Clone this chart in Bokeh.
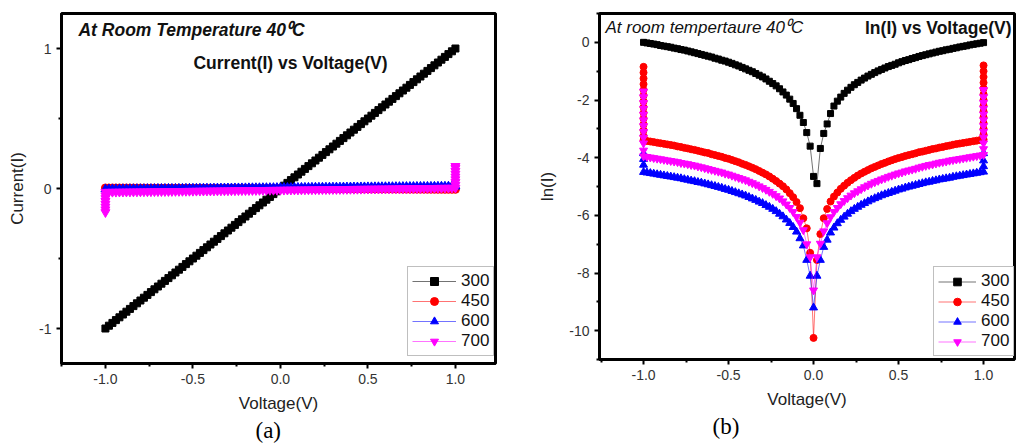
from bokeh.plotting import figure
from bokeh.models import (FixedTicker, Label, Legend, LegendItem, Title, Range1d,
                          CustomJSTickFormatter)
from bokeh.layouts import row
from bokeh.embed import file_html
from bokeh.resources import INLINE

# ---------------- data ----------------
volt = [-1.00, -0.98, -0.96, -0.94, -0.92, -0.90, -0.88, -0.86, -0.84, -0.82,
        -0.80, -0.78, -0.76, -0.74, -0.72, -0.70, -0.68, -0.66, -0.64, -0.62,
        -0.60, -0.58, -0.56, -0.54, -0.52, -0.50, -0.48, -0.46, -0.44, -0.42,
        -0.40, -0.38, -0.36, -0.34, -0.32, -0.30, -0.28, -0.26, -0.24, -0.22,
        -0.20, -0.18, -0.16, -0.14, -0.12, -0.10, -0.08, -0.06, -0.04, -0.02,
        0.00,
        0.02, 0.04, 0.06, 0.08, 0.10, 0.12, 0.14, 0.16, 0.18, 0.20,
        0.22, 0.24, 0.26, 0.28, 0.30, 0.32, 0.34, 0.36, 0.38, 0.40,
        0.42, 0.44, 0.46, 0.48, 0.50, 0.52, 0.54, 0.56, 0.58, 0.60,
        0.62, 0.64, 0.66, 0.68, 0.70, 0.72, 0.74, 0.76, 0.78, 0.80,
        0.82, 0.84, 0.86, 0.88, 0.90, 0.92, 0.94, 0.96, 0.98, 1.00]

# panel (a): current
cur_300 = [-1.00, -0.98, -0.96, -0.94, -0.92, -0.90, -0.88, -0.86, -0.84, -0.82,
           -0.80, -0.78, -0.76, -0.74, -0.72, -0.70, -0.68, -0.66, -0.64, -0.62,
           -0.60, -0.58, -0.56, -0.54, -0.52, -0.50, -0.48, -0.46, -0.44, -0.42,
           -0.40, -0.38, -0.36, -0.34, -0.32, -0.30, -0.28, -0.26, -0.24, -0.22,
           -0.20, -0.18, -0.16, -0.14, -0.12, -0.10, -0.08, -0.06, -0.04, -0.02,
           0.00,
           0.02, 0.04, 0.06, 0.08, 0.10, 0.12, 0.14, 0.16, 0.18, 0.20,
           0.22, 0.24, 0.26, 0.28, 0.30, 0.32, 0.34, 0.36, 0.38, 0.40,
           0.42, 0.44, 0.46, 0.48, 0.50, 0.52, 0.54, 0.56, 0.58, 0.60,
           0.62, 0.64, 0.66, 0.68, 0.70, 0.72, 0.74, 0.76, 0.78, 0.80,
           0.82, 0.84, 0.86, 0.88, 0.90, 0.92, 0.94, 0.96, 0.98, 1.00]

cur_450 = [0.0040, 0.0039, 0.0038, 0.0037, 0.0036, 0.0035, 0.0034, 0.0033, 0.0032, 0.0031,
           0.0030, 0.0029, 0.0028, 0.0027, 0.0026, 0.0025, 0.0024, 0.0023, 0.0022, 0.0021,
           0.0020, 0.0019, 0.0018, 0.0017, 0.0016, 0.0015, 0.0014, 0.0013, 0.0012, 0.0011,
           0.0010, 0.0009, 0.0008, 0.0007, 0.0006, 0.0005, 0.0004, 0.0003, 0.0002, 0.0001,
           0.0000,
           -0.0001, -0.0002, -0.0003, -0.0004, -0.0005, -0.0006, -0.0007, -0.0008, -0.0009, -0.0010,
           -0.0011, -0.0012, -0.0013, -0.0014, -0.0015, -0.0016, -0.0017, -0.0018, -0.0019, -0.0020,
           -0.0021, -0.0022, -0.0023, -0.0024, -0.0025, -0.0026, -0.0027, -0.0028, -0.0029, -0.0030,
           -0.0031, -0.0032, -0.0033, -0.0034, -0.0035, -0.0036, -0.0037, -0.0038, -0.0039, -0.0040,
           -0.0041, -0.0042, -0.0043, -0.0044, -0.0045, -0.0046, -0.0047, -0.0048, -0.0049, -0.0050,
           -0.0051, -0.0052, -0.0053, -0.0054, -0.0055, -0.0056, -0.0057, -0.0058, -0.0059, -0.0060]

cur_600 = [-0.0050, -0.0048, -0.0046, -0.0044, -0.0042, -0.0040, -0.0038, -0.0036, -0.0034, -0.0032,
           -0.0030, -0.0028, -0.0026, -0.0024, -0.0022, -0.0020, -0.0018, -0.0016, -0.0014, -0.0012,
           -0.0010, -0.0008, -0.0006, -0.0004, -0.0002, 0.0000, 0.0002, 0.0004, 0.0006, 0.0008,
           0.0010, 0.0012, 0.0014, 0.0016, 0.0018, 0.0020, 0.0022, 0.0024, 0.0026, 0.0028,
           0.0030, 0.0032, 0.0034, 0.0036, 0.0038, 0.0040, 0.0042, 0.0044, 0.0046, 0.0048,
           0.0050,
           0.0052, 0.0054, 0.0056, 0.0058, 0.0060, 0.0062, 0.0064, 0.0066, 0.0068, 0.0070,
           0.0072, 0.0074, 0.0076, 0.0078, 0.0080, 0.0082, 0.0084, 0.0086, 0.0088, 0.0090,
           0.0092, 0.0094, 0.0096, 0.0098, 0.0100, 0.0102, 0.0104, 0.0106, 0.0108, 0.0110,
           0.0112, 0.0114, 0.0116, 0.0118, 0.0120, 0.0122, 0.0124, 0.0126, 0.0128, 0.0130,
           0.0132, 0.0134, 0.0136, 0.0138, 0.0140, 0.0142, 0.0144, 0.0146, 0.0148, 0.0150]

cur_700 = [-0.0250, -0.0247, -0.0244, -0.0241, -0.0238, -0.0235, -0.0232, -0.0229, -0.0226, -0.0223,
           -0.0220, -0.0217, -0.0214, -0.0211, -0.0208, -0.0205, -0.0202, -0.0199, -0.0196, -0.0193,
           -0.0190, -0.0187, -0.0184, -0.0181, -0.0178, -0.0175, -0.0172, -0.0169, -0.0166, -0.0163,
           -0.0160, -0.0157, -0.0154, -0.0151, -0.0148, -0.0145, -0.0142, -0.0139, -0.0136, -0.0133,
           -0.0130, -0.0127, -0.0124, -0.0121, -0.0118, -0.0115, -0.0112, -0.0109, -0.0106, -0.0103,
           -0.0100,
           -0.0097, -0.0094, -0.0091, -0.0088, -0.0085, -0.0082, -0.0079, -0.0076, -0.0073, -0.0070,
           -0.0067, -0.0064, -0.0061, -0.0058, -0.0055, -0.0052, -0.0049, -0.0046, -0.0043, -0.0040,
           -0.0037, -0.0034, -0.0031, -0.0028, -0.0025, -0.0022, -0.0019, -0.0016, -0.0013, -0.0010,
           -0.0007, -0.0004, -0.0001, 0.0002, 0.0005, 0.0008, 0.0011, 0.0014, 0.0017, 0.0020,
           0.0023, 0.0026, 0.0029, 0.0032, 0.0035, 0.0038, 0.0041, 0.0044, 0.0047, 0.0050]
# repeated readings at V = -1 and V = +1 (700 series)
cur_700_start = [-0.17, -0.15, -0.13, -0.11, -0.09, -0.07, -0.05]
cur_700_end = [0.025, 0.045, 0.065, 0.085, 0.105, 0.125, 0.145, 0.16]

# panel (b): ln(I)
ln_300 = [0.00, -0.02, -0.04, -0.06, -0.08, -0.11, -0.13, -0.15, -0.17, -0.20,
          -0.22, -0.25, -0.27, -0.30, -0.33, -0.36, -0.39, -0.42, -0.45, -0.48,
          -0.51, -0.55, -0.58, -0.62, -0.65, -0.69, -0.73, -0.78, -0.82, -0.87,
          -0.92, -0.97, -1.02, -1.08, -1.14, -1.20, -1.27, -1.35, -1.43, -1.51,
          -1.61, -1.72, -1.83, -1.97, -2.12, -2.30, -2.53, -2.78, -3.13, -3.60,
          -4.65,
          -4.90, -3.68, -3.16, -2.83, -2.47, -2.21, -2.04, -1.90, -1.77, -1.66,
          -1.56, -1.47, -1.39, -1.31, -1.24, -1.17, -1.11, -1.05, -0.99, -0.94,
          -0.89, -0.84, -0.80, -0.76, -0.71, -0.67, -0.63, -0.60, -0.56, -0.53,
          -0.49, -0.46, -0.43, -0.40, -0.37, -0.34, -0.31, -0.29, -0.26, -0.24,
          -0.21, -0.19, -0.16, -0.14, -0.12, -0.09, -0.07, -0.05, -0.03, -0.01]

ln_450 = [-3.40, -3.42, -3.44, -3.46, -3.48, -3.50, -3.52, -3.54, -3.56, -3.58,
          -3.61, -3.63, -3.66, -3.68, -3.71, -3.73, -3.76, -3.79, -3.82, -3.84,
          -3.88, -3.91, -3.94, -3.97, -4.01, -4.04, -4.08, -4.12, -4.16, -4.21,
          -4.25, -4.30, -4.35, -4.40, -4.46, -4.52, -4.58, -4.65, -4.73, -4.81,
          -4.90, -4.99, -5.10, -5.23, -5.37, -5.54, -5.75, -6.10, -6.45, -7.30,
          -10.25,
          -7.55, -6.65, -6.10, -5.78, -5.52, -5.35, -5.21, -5.08, -4.97, -4.87,
          -4.78, -4.70, -4.62, -4.55, -4.49, -4.43, -4.37, -4.32, -4.27, -4.22,
          -4.18, -4.13, -4.09, -4.05, -4.01, -3.98, -3.94, -3.91, -3.88, -3.85,
          -3.81, -3.79, -3.76, -3.73, -3.70, -3.68, -3.65, -3.63, -3.60, -3.58,
          -3.55, -3.53, -3.51, -3.49, -3.47, -3.45, -3.43, -3.41, -3.39, -3.37]
ln_450_start = [-0.85, -1.05, -1.25, -1.45, -1.65, -1.85, -2.05, -2.25, -2.45, -2.65, -2.85, -3.05, -3.25]
ln_450_end = [-3.20, -3.00, -2.80, -2.60, -2.40, -2.20, -2.00, -1.80, -1.60, -1.40, -1.20, -1.00, -0.80]

ln_600 = [-4.50, -4.52, -4.54, -4.56, -4.58, -4.60, -4.62, -4.64, -4.66, -4.68,
          -4.70, -4.72, -4.75, -4.77, -4.80, -4.82, -4.85, -4.87, -4.90, -4.93,
          -4.96, -4.99, -5.02, -5.05, -5.09, -5.12, -5.16, -5.20, -5.24, -5.28,
          -5.32, -5.37, -5.42, -5.47, -5.53, -5.58, -5.65, -5.71, -5.78, -5.86,
          -5.95, -6.04, -6.15, -6.27, -6.41, -6.57, -6.80, -7.05, -7.55, -8.10,
          -9.20,
          -8.10, -7.55, -7.10, -6.85, -6.60, -6.43, -6.28, -6.16, -6.05, -5.95,
          -5.86, -5.78, -5.71, -5.64, -5.58, -5.52, -5.46, -5.41, -5.36, -5.31,
          -5.27, -5.23, -5.19, -5.15, -5.11, -5.08, -5.04, -5.01, -4.98, -4.95,
          -4.92, -4.89, -4.86, -4.84, -4.81, -4.79, -4.76, -4.74, -4.72, -4.70,
          -4.67, -4.65, -4.63, -4.61, -4.59, -4.57, -4.55, -4.53, -4.51, -4.49]
ln_600_start = [-3.85, -4.05, -4.25]
ln_600_end = [-4.30, -4.10, -3.85]

ln_700 = [-3.95, -3.97, -3.99, -4.01, -4.03, -4.05, -4.07, -4.09, -4.11, -4.13,
          -4.15, -4.18, -4.20, -4.22, -4.25, -4.27, -4.30, -4.33, -4.36, -4.39,
          -4.42, -4.45, -4.48, -4.51, -4.55, -4.58, -4.62, -4.66, -4.70, -4.74,
          -4.78, -4.83, -4.88, -4.93, -4.99, -5.05, -5.11, -5.18, -5.25, -5.33,
          -5.41, -5.51, -5.62, -5.74, -5.88, -6.05, -6.25, -6.51, -7.00, -7.45,
          -8.60,
          -7.45, -6.98, -6.55, -6.27, -6.06, -5.88, -5.74, -5.61, -5.50, -5.40,
          -5.31, -5.23, -5.16, -5.09, -5.02, -4.96, -4.90, -4.85, -4.80, -4.75,
          -4.71, -4.66, -4.62, -4.58, -4.54, -4.51, -4.47, -4.44, -4.41, -4.38,
          -4.34, -4.31, -4.28, -4.25, -4.23, -4.20, -4.17, -4.15, -4.13, -4.10,
          -4.08, -4.06, -4.04, -4.02, -4.00, -3.98, -3.96, -3.94, -3.92, -3.90]
ln_700_start = [-1.70, -1.90, -2.10, -2.30, -2.50, -2.70, -2.90, -3.10, -3.30, -3.50, -3.75]
ln_700_end = [-3.70, -3.50, -3.30, -3.10, -2.90, -2.70, -2.50, -2.30, -2.10, -1.90, -1.65]

series_labels = ["300", "450", "600", "700"]
x_ticks = [-1.0, -0.5, 0.0, 0.5, 1.0]
x_minor = [-1.25, -0.75, -0.25, 0.25, 0.75, 1.25]
ya_ticks = [-1, 0, 1]
ya_minor = [-0.5, 0.5]
yb_ticks = [0, -2, -4, -6, -8, -10]
yb_minor = [1, -1, -3, -5, -7, -9, -11]

# ---------------- styles ----------------
COLORS = ["#000000", "#ff0000", "#0000ff", "#ff00ff"]
MARKERS = ["square", "circle", "triangle", "inverted_triangle"]
FONT = "Liberation Sans"


def with_ends(start, core, end):
    xs = [volt[0]] * len(start) + list(volt) + [volt[-1]] * len(end)
    ys = list(start) + list(core) + list(end)
    return xs, ys


def style(p, yt, ym):
    p.xgrid.visible = False
    p.ygrid.visible = False
    p.outline_line_color = "black"
    p.outline_line_width = 3
    p.background_fill_color = "white"
    p.border_fill_color = "white"
    p.xaxis.ticker = FixedTicker(ticks=x_ticks, minor_ticks=x_minor)
    p.yaxis.ticker = FixedTicker(ticks=yt, minor_ticks=ym)
    p.xaxis.formatter = CustomJSTickFormatter(code="return tick.toFixed(1);")
    p.yaxis.formatter = CustomJSTickFormatter(code="return tick.toFixed(0);")
    for ax in (p.xaxis[0], p.yaxis[0]):
        ax.axis_line_width = 3
        ax.axis_line_color = "black"
        ax.major_tick_line_width = 2
        ax.major_tick_out = 5
        ax.major_tick_in = 0
        ax.minor_tick_line_width = 2
        ax.minor_tick_out = 3
        ax.minor_tick_in = 0
        ax.major_label_text_font = FONT
        ax.major_label_text_font_size = "14px"
        ax.major_label_text_color = "#333333"
        ax.major_label_standoff = 5
        ax.axis_label_text_font = FONT
        ax.axis_label_text_font_size = "17px"
        ax.axis_label_text_font_style = "normal"
        ax.axis_label_text_color = "#222222"
    p.xaxis[0].axis_label_standoff = 7
    p.yaxis[0].axis_label_standoff = 9


def add_series(p, data, sizes):
    items = []
    for lab, col, mk, sz, (xs, ys) in zip(series_labels, COLORS, MARKERS, sizes, data):
        lr = p.line(xs, ys, line_color=col, line_width=1, line_alpha=0.55)
        sr = p.scatter(xs, ys, marker=mk, size=sz, fill_color=col, line_color=col)
        items.append(LegendItem(label=lab, renderers=[lr, sr]))
    return items


def make_legend(items, loc, gw, gh):
    return Legend(items=items, location=loc, margin=0, padding=4, spacing=0,
                  glyph_width=gw, glyph_height=gh, label_height=gh, label_standoff=5,
                  border_line_color="#808080", border_line_width=1,
                  background_fill_color="white", background_fill_alpha=1.0,
                  label_text_font=FONT, label_text_font_size="17px",
                  label_text_color="#111111")


# ---------------- panel (a) ----------------
p1 = figure(frame_width=434, frame_height=350,
            x_range=Range1d(-1.251, 1.229), y_range=Range1d(-1.25, 1.25),
            min_border_left=61, min_border_right=35, min_border_top=8, min_border_bottom=86,
            output_backend="svg", toolbar_location=None,
            x_axis_label="Voltage(V)", y_axis_label="Current(I)")
style(p1, ya_ticks, ya_minor)
data_a = [with_ends([], cur_300, []), with_ends([], cur_450, []),
          with_ends([], cur_600, []), with_ends(cur_700_start, cur_700, cur_700_end)]
items_a = add_series(p1, data_a, [7, 8, 9, 9])
p1.add_layout(make_legend(items_a, (346, 7), 44, 20))
p1.add_layout(Label(x=-1.154, y=1.129, text="At Room Temperature 40\u2070C",
                    text_font=FONT, text_font_style="bold italic", text_font_size="17.5px",
                    text_baseline="middle", text_color="#111111"))
p1.add_layout(Label(x=-0.497, y=0.893, text="Current(I) vs Voltage(V)",
                    text_font=FONT, text_font_style="bold", text_font_size="17.5px",
                    text_baseline="middle", text_color="#111111"))
p1.add_layout(Title(text="(a)", align="left", offset=194, standoff=0,
                    text_font="Liberation Serif", text_font_size="23px",
                    text_font_style="normal", text_color="black"), "below")

# ---------------- panel (b) ----------------
p2 = figure(frame_width=415, frame_height=346,
            x_range=Range1d(-1.259, 1.182), y_range=Range1d(-11.0, 1.0),
            min_border_left=69, min_border_right=2, min_border_top=13, min_border_bottom=85,
            output_backend="svg", toolbar_location=None,
            x_axis_label="Voltage(V)", y_axis_label="ln(I)")
style(p2, yb_ticks, yb_minor)
data_b = [with_ends([], ln_300, []), with_ends(ln_450_start, ln_450, ln_450_end),
          with_ends(ln_600_start, ln_600, ln_600_end), with_ends(ln_700_start, ln_700, ln_700_end)]
items_b = add_series(p2, data_b, [6, 7, 8, 8])
p2.add_layout(make_legend(items_b, (334, 3), 38, 19))
p2.add_layout(Label(x=-1.224, y=0.51, text="At room tempertaure 40\u2070C",
                    text_font=FONT, text_font_style="italic", text_font_size="17px",
                    text_baseline="middle", text_color="#111111"))
p2.add_layout(Label(x=1.182, y=0.51, text="ln(I) vs Voltage(V)", x_offset=-3,
                    text_font=FONT, text_font_style="bold", text_font_size="17.5px",
                    text_baseline="middle", text_align="right", text_color="#111111"))
p2.add_layout(Title(text="(b)", align="left", offset=113, standoff=0,
                    text_font="Liberation Serif", text_font_size="23px",
                    text_font_style="normal", text_color="black"), "below")

layout = row(p1, p2)
open("out.html", "w").write(file_html(layout, INLINE))
